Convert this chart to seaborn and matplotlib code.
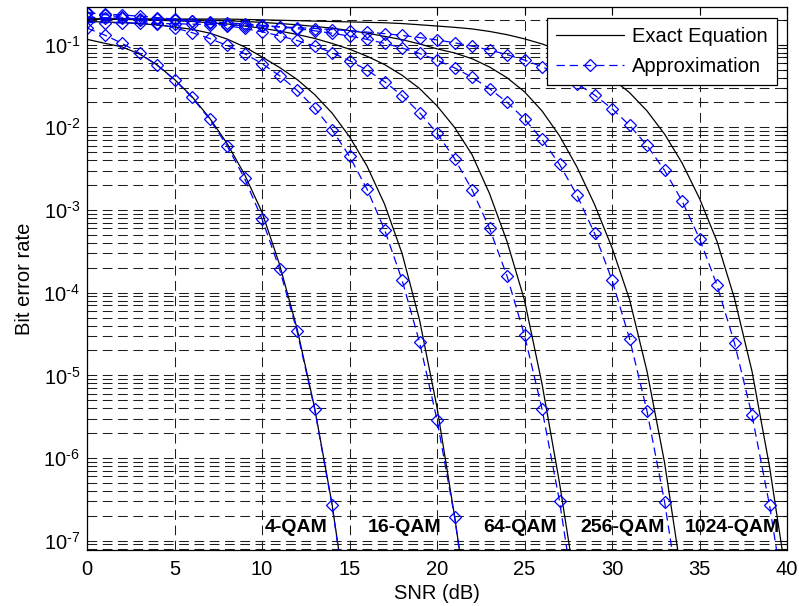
import numpy as np
import pandas as pd
import matplotlib
matplotlib.use("Agg")
import matplotlib.pyplot as plt
from matplotlib.lines import Line2D
from matplotlib.ticker import FixedLocator, FixedFormatter, LogLocator, NullFormatter
import seaborn as sns

# SNR grid (dB); each series uses the leading part of it
snr_db = list(range(0, 41))

modulations = ["4-QAM", "16-QAM", "64-QAM", "256-QAM", "1024-QAM"]

# Exact bit error rate curves
ber_exact_4 = [0.116, 0.104, 0.094, 0.077, 0.057, 0.038, 0.0235, 0.013, 0.0064, 0.0027,
               9.4e-4, 2.2e-4, 3.7e-5, 4.1e-6, 2.8e-7, 9.6e-9]
ber_exact_16 = [0.19, 0.188, 0.185, 0.18, 0.173, 0.164, 0.153, 0.138, 0.117, 0.094,
                0.071, 0.053, 0.038, 0.025, 0.0149, 0.0077, 0.0034, 0.00118, 3.0e-4, 4.7e-5,
                4.1e-6, 2.0e-7, 6.8e-9]
ber_exact_64 = [0.204, 0.204, 0.202, 0.200, 0.197, 0.195, 0.191, 0.184, 0.178, 0.168,
                0.158, 0.146, 0.133, 0.119, 0.1035, 0.0881, 0.0724, 0.0575, 0.0427, 0.0295,
                0.0182, 0.0100, 0.00468, 0.00158, 4.17e-4, 8.1e-5, 7.9e-6, 5.0e-7, 2.2e-8]
ber_exact_256 = [0.204, 0.204, 0.204, 0.203, 0.202, 0.1995, 0.1995, 0.197, 0.195, 0.1905,
                 0.186, 0.180, 0.174, 0.166, 0.1585, 0.148, 0.138, 0.126, 0.115, 0.102,
                 0.089, 0.0794, 0.0676, 0.0537, 0.0398, 0.0269, 0.0158, 0.0079, 0.0033, 0.00117,
                 3.5e-4, 8.3e-5, 1.12e-5, 8.9e-7, 3.5e-8]
ber_exact_1024 = [0.204, 0.204, 0.204, 0.204, 0.204, 0.204, 0.204, 0.204, 0.204, 0.2018,
                  0.1995, 0.1972, 0.195, 0.1928, 0.1905, 0.1884, 0.1862, 0.184, 0.18, 0.174,
                  0.168, 0.162, 0.155, 0.1445, 0.132, 0.1175, 0.102, 0.0851, 0.0692, 0.0537,
                  0.0389, 0.0263, 0.0158, 0.0083, 0.00372, 0.00138, 4.17e-4, 8.5e-5, 1.12e-5, 7.9e-7,
                  3.2e-8]

# Approximate bit error rate (one marker per dB)
ber_approx_4 = [0.1587, 0.1309, 0.1040, 0.0788, 0.0565, 0.0377, 0.0230, 0.0126, 0.0060, 0.00242,
                7.8e-4, 1.94e-4, 3.43e-5, 3.97e-6, 2.69e-7, 9.4e-9]
ber_approx_16 = [0.2456, 0.2308, 0.2150, 0.1978, 0.1794, 0.1600, 0.1397, 0.1188, 0.0980, 0.0779,
                 0.0590, 0.0422, 0.0281, 0.0172, 0.00938, 0.00446, 0.00179, 5.8e-4, 1.43e-4, 2.52e-5,
                 2.90e-6, 1.96e-7, 6.8e-9]
ber_approx_64 = [0.2413, 0.2353, 0.2285, 0.2210, 0.2127, 0.2036, 0.1935, 0.1823, 0.1702, 0.1571,
                 0.1430, 0.1280, 0.1123, 0.0962, 0.0800, 0.0641, 0.0492, 0.0357, 0.0242, 0.0151,
                 0.00849, 0.00419, 0.00176, 6.0e-4, 1.59e-4, 3.05e-5, 3.92e-6, 3.02e-7, 1.23e-8]
ber_approx_256 = [0.2141, 0.2117, 0.2089, 0.2058, 0.2024, 0.1986, 0.1942, 0.1894, 0.1840, 0.1781,
                  0.1715, 0.1642, 0.1561, 0.1472, 0.1375, 0.1270, 0.1157, 0.1037, 0.0912, 0.0782,
                  0.0652, 0.0524, 0.0403, 0.0294, 0.0201, 0.0126, 0.00714, 0.00356, 0.00151, 5.24e-4,
                  1.42e-4, 2.79e-5, 3.69e-6, 2.98e-7, 1.28e-8]
ber_approx_1024 = [0.1854, 0.1844, 0.1832, 0.1819, 0.1805, 0.1789, 0.1771, 0.1751, 0.1728, 0.1702,
                   0.1674, 0.1642, 0.1607, 0.1567, 0.1523, 0.1474, 0.1419, 0.1359, 0.1293, 0.1219,
                   0.1140, 0.1053, 0.0960, 0.0861, 0.0757, 0.0650, 0.0542, 0.0437, 0.0337, 0.0246,
                   0.0168, 0.0106, 0.00603, 0.00302, 0.00129, 4.51e-4, 1.23e-4, 2.45e-5, 3.29e-6, 2.70e-7,
                   1.22e-8]

exact_series = [ber_exact_4, ber_exact_16, ber_exact_64, ber_exact_256, ber_exact_1024]
approx_series = [ber_approx_4, ber_approx_16, ber_approx_64, ber_approx_256, ber_approx_1024]

legend_labels = ["Exact Equation", "Approximation"]
label_snr = [10.17, 16.06, 22.63, 28.17, 34.17]
y_ticks = [1e-7, 1e-6, 1e-5, 1e-4, 1e-3, 1e-2, 1e-1]
y_tick_labels = [r"$10^{\text{-}%d}$" % k for k in (7, 6, 5, 4, 3, 2, 1)]


def long_table(series_list):
    rows = []
    for mod, vals in zip(modulations, series_list):
        for d, v in zip(snr_db, vals):
            rows.append((mod, d, v))
    return pd.DataFrame(rows, columns=["mod", "snr", "ber"])


df_exact = long_table(exact_series)
df_approx = long_table(approx_series)

sns.set_style("white")
plt.rcParams["font.family"] = ["Liberation Sans", "DejaVu Sans"]
plt.rcParams["mathtext.fontset"] = "custom"
plt.rcParams["mathtext.rm"] = "Liberation Sans"
plt.rcParams["mathtext.it"] = "Liberation Sans:italic"
plt.rcParams["mathtext.bf"] = "Liberation Sans:bold"
plt.rcParams["lines.scale_dashes"] = False
for key in ("text.color", "axes.labelcolor", "xtick.color", "ytick.color", "axes.edgecolor"):
    plt.rcParams[key] = "black"

FS = 14.5
fig = plt.figure(figsize=(7.99, 6.06), dpi=100)
ax = fig.add_axes([0.10889, 0.09241, 0.87610, 0.89555])
ax.set_yscale("log")

grid_kw = dict(color="#1e1e1e", linewidth=0.75, linestyle=(0, (7, 4)))
ax.set_axisbelow(True)

sns.lineplot(data=df_exact, x="snr", y="ber", units="mod", estimator=None, sort=False,
             color="black", linewidth=0.9, legend=False, ax=ax)
sns.lineplot(data=df_approx, x="snr", y="ber", units="mod", estimator=None, sort=False,
             color="blue", linewidth=0.9, linestyle=(0, (6, 3.5)), marker="D",
             markersize=6.6, markerfacecolor="none", markeredgecolor="blue",
             markeredgewidth=0.9, legend=False, ax=ax)

ax.set_xlim(0, 40)
ax.set_ylim(7.72e-8, 0.283)
ax.set_xticks(range(0, 41, 5))
ax.yaxis.set_major_locator(FixedLocator(y_ticks))
ax.yaxis.set_major_formatter(FixedFormatter(y_tick_labels))
ax.yaxis.set_minor_locator(LogLocator(base=10, subs=np.arange(2, 10), numticks=30))
ax.yaxis.set_minor_formatter(NullFormatter())

ax.grid(True, which="major", axis="both", **grid_kw)
ax.grid(True, which="minor", axis="y", **grid_kw)

ax.tick_params(which="both", direction="in", top=True, right=True, colors="black",
               labelsize=FS, width=0.8)
ax.tick_params(which="major", length=5)
ax.tick_params(axis="x", which="major", pad=7)
ax.tick_params(axis="y", which="major", pad=5)
ax.tick_params(which="minor", length=3)
for sp in ax.spines.values():
    sp.set_color("black")
    sp.set_linewidth(0.9)

ax.set_xlabel("SNR (dB)", fontsize=FS, labelpad=4)
ax.set_ylabel("Bit error rate", fontsize=FS, labelpad=7)

for mod, xs in zip(modulations, label_snr):
    ax.text(xs, 1.285e-7, mod, fontsize=14, fontweight="bold", ha="left", va="baseline")

handles = [
    Line2D([], [], color="black", linewidth=0.9),
    Line2D([], [], color="blue", linewidth=0.9, linestyle=(0, (6, 3.5)), marker="D",
           markersize=6.6, markerfacecolor="none", markeredgecolor="blue", markeredgewidth=0.9),
]
leg = ax.legend(handles, legend_labels, loc="upper right", bbox_to_anchor=(0.9857, 0.9803),
                borderaxespad=0, fontsize=FS, frameon=True, fancybox=False, framealpha=1,
                edgecolor="black", handlelength=3.4, handletextpad=0.4, borderpad=0.45,
                labelspacing=0.55, numpoints=1)
leg.get_frame().set_linewidth(0.9)

fig.savefig("out.png", dpi=100)
